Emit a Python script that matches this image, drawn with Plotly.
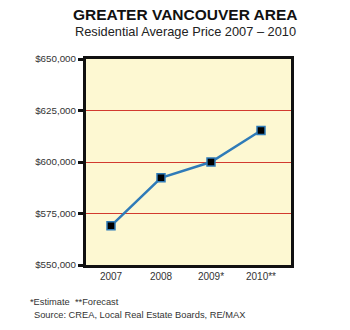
import plotly.graph_objects as go

years = ["2007", "2008", "2009*", "2010**"]
avg_price = [569000, 592300, 600000, 615300]
tick_vals = [550000, 575000, 600000, 625000, 650000]
tick_text = ["$550,000", "$575,000", "$600,000", "$625,000", "$650,000"]

font_family = "Liberation Sans, Arial, Helvetica, sans-serif"

# Plot-area margins in pixels
M_L, M_R, M_T, M_B = 86, 59, 59, 65
W, H = 350, 330

fig = go.Figure()
fig.add_trace(go.Scatter(
    x=list(range(len(years))),
    y=avg_price,
    mode="lines+markers",
    line=dict(color="#2f7bb8", width=2.5),
    marker=dict(symbol="square", size=8, color="#000000",
                line=dict(color="#2f7bb8", width=1.5)),
    hoverinfo="skip",
))

fig.update_layout(
    width=W, height=H,
    margin=dict(l=M_L, r=M_R, t=M_T, b=M_B),
    paper_bgcolor="white",
    plot_bgcolor="#fdf8d2",
    showlegend=False,
    font=dict(family=font_family, color="#222222"),
    xaxis=dict(
        range=[-0.5, 3.6],
        tickmode="array",
        tickvals=list(range(len(years))),
        ticktext=years,
        showgrid=False, zeroline=False,
        showline=True, mirror=True, linecolor="#111111", linewidth=3,
        ticks="", tickfont=dict(size=10, color="#333333"),
        fixedrange=True,
    ),
    yaxis=dict(
        range=[550000, 650000],
        tickmode="array",
        tickvals=tick_vals,
        ticktext=tick_text,
        showgrid=True, gridcolor="#d23a2e", gridwidth=1,
        zeroline=False,
        showline=True, mirror=True, linecolor="#111111", linewidth=3,
        ticks="outside", ticklen=5, tickwidth=3, tickcolor="#111111",
        tickfont=dict(size=9.8, color="#333333"),
        fixedrange=True,
    ),
)


def pix_annotation(text, px, py, size, color, xanchor="center"):
    """Add a text annotation positioned in page pixels."""
    plot_w = W - M_L - M_R
    plot_h = H - M_T - M_B
    fig.add_annotation(
        text=text, showarrow=False,
        xref="paper", yref="paper",
        x=(px - M_L) / plot_w, y=1 - (py - M_T) / plot_h,
        xanchor=xanchor, yanchor="middle",
        font=dict(size=size, color=color, family=font_family),
    )


pix_annotation("<b>GREATER VANCOUVER AREA</b>", 185, 14, 15.5, "#111111")
pix_annotation("Residential Average Price 2007 – 2010", 185.5, 31, 12.8, "#222222")
pix_annotation("*Estimate  **Forecast", 28, 302, 9.3, "#333333", xanchor="left")
pix_annotation("Source: CREA, Local Real Estate Boards, RE/MAX", 32, 315, 9.3,
               "#333333", xanchor="left")

fig.write_html("out.html")
